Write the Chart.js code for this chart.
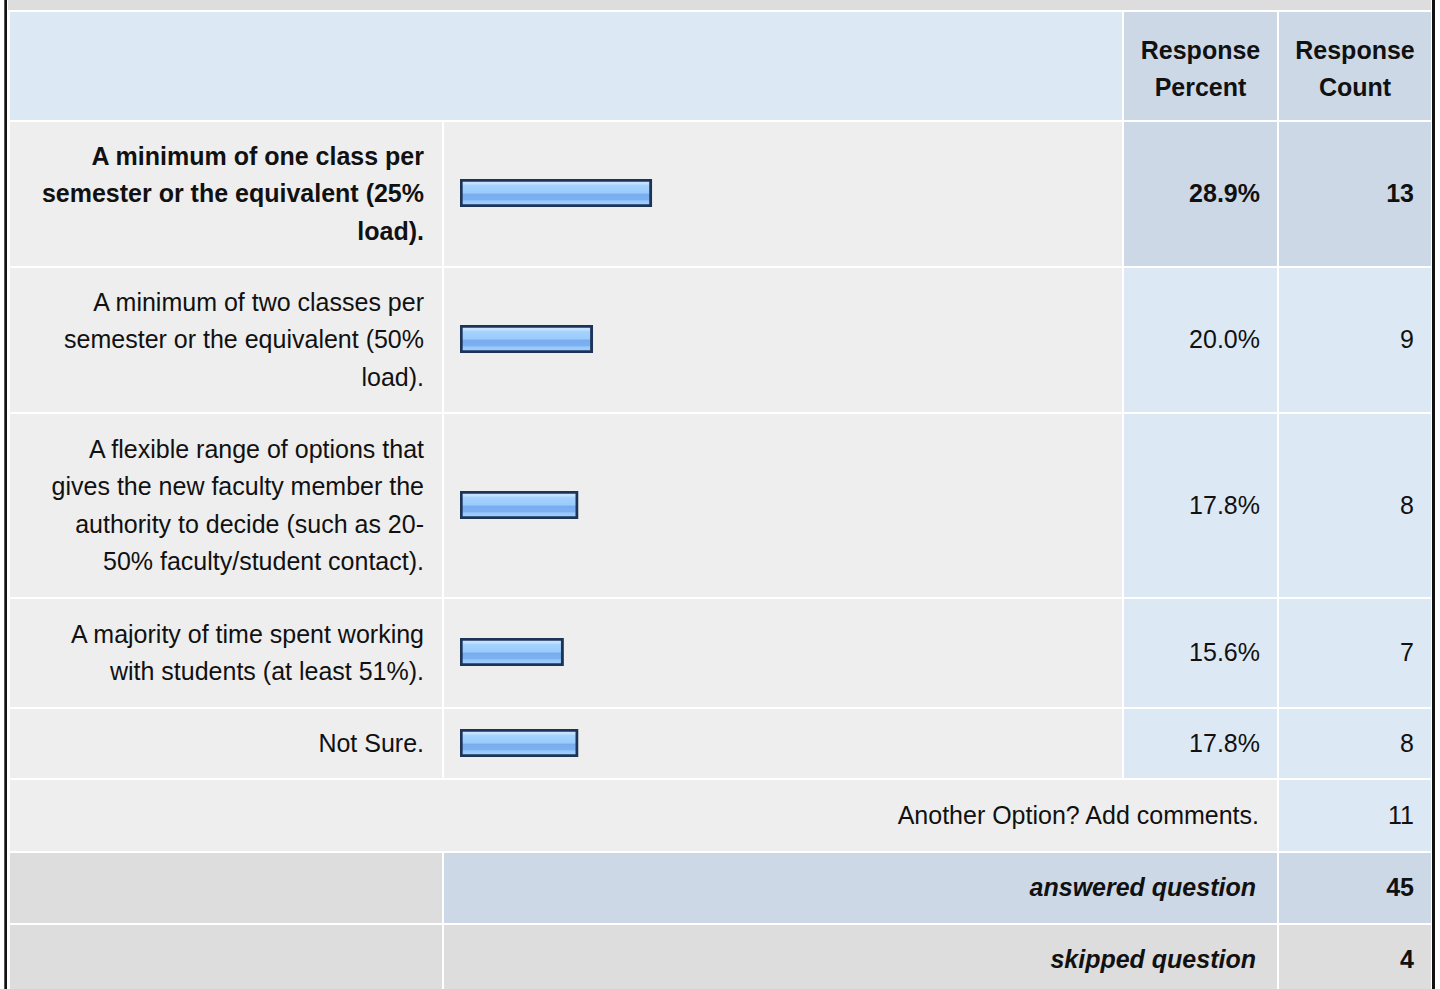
<!DOCTYPE html>
<html>
<head>
<meta charset="utf-8">
<script src="https://cdn.jsdelivr.net/npm/chart.js@4"></script>
<style>
  html, body { margin: 0; padding: 0; background: #fff; }
  body { width: 1440px; height: 989px; position: relative; overflow: hidden;
         font-family: "Liberation Sans", Arial, sans-serif; font-size: 25px; color: #111; }
  .cell { position: absolute; box-sizing: border-box; display: flex; align-items: center;
          justify-content: flex-end; text-align: right; line-height: 37.5px; white-space: pre-line; }
  .frame { position: absolute; top: 0; height: 989px; width: 3px; background: #111; }
  .bold { font-weight: bold; }
  .it { font-style: italic; font-weight: bold; }
  .barwrap { position: absolute; width: 664px; height: 28px; }
</style>
</head>
<body>
<div class="frame" style="left:4px; border-left:1px solid #555; width:2px;"></div>
<div class="frame" style="left:1432px;"></div>
<div id="table"></div>

<script>
// Survey results - answer choices, percent and count per choice
const answerChoices = [
    "A minimum of one class per\nsemester or the equivalent (25%\nload).",
    "A minimum of two classes per\nsemester or the equivalent (50%\nload).",
    "A flexible range of options that\ngives the new faculty member the\nauthority to decide (such as 20-\n50% faculty/student contact).",
    "A majority of time spent working\nwith students (at least 51%).",
    "Not Sure."
];
const responsePercent = [28.9, 20.0, 17.8, 15.6, 17.8];
const responseCount = [13, 9, 8, 7, 8];
const otherLabel = "Another Option? Add comments.";
const otherCount = 11;
const answeredQuestion = 45;
const skippedQuestion = 4;

// Colours
const C_GRAY = '#dddddd', C_LIGHT = '#eeeeee', C_BLUE = '#dde8f5', C_BLUE2 = '#cdd8e6';

// Column edges: label / bar / percent / count
const COLS = [{x: 10, w: 432}, {x: 444, w: 678}, {x: 1124, w: 153}, {x: 1279, w: 152}];
// Row tops and heights for the answer rows
const ROW_Y = [122, 268, 414, 599, 709];
const ROW_H = [144, 144, 183, 108, 69];

const table = document.getElementById('table');

function cell(x, y, w, h, bg, text, cls, pad, extra) {
    const d = document.createElement('div');
    d.className = 'cell' + (cls ? ' ' + cls : '');
    d.style.cssText = `left:${x}px;top:${y}px;width:${w}px;height:${h}px;background:${bg};padding-right:${pad || 0}px;` + (extra || '');
    if (text !== undefined) d.textContent = text;
    table.appendChild(d);
    return d;
}

// Top band and header row
cell(8, 0, 1423, 10, C_GRAY);
cell(10, 12, 1112, 108, C_BLUE);
cell(COLS[2].x, 12, COLS[2].w, 108, C_BLUE2, "Response\nPercent", 'bold', 0, 'justify-content:center;text-align:center;padding-top:6px;');
cell(COLS[3].x, 12, COLS[3].w, 108, C_BLUE2, "Response\nCount", 'bold', 0, 'justify-content:center;text-align:center;padding-top:6px;');

// Highest response is bold with darker cells
const maxPct = Math.max(...responsePercent);

answerChoices.forEach((label, i) => {
    const y = ROW_Y[i], h = ROW_H[i];
    const top = responsePercent[i] === maxPct;
    const cls = top ? 'bold' : '';
    cell(COLS[0].x, y, COLS[0].w, h, C_LIGHT, label, cls, 18, 'padding-left:20px;');
    const barCell = cell(COLS[1].x, y, COLS[1].w, h, C_LIGHT);
    cell(COLS[2].x, y, COLS[2].w, h, top ? C_BLUE2 : C_BLUE, responsePercent[i].toFixed(1) + '%', cls, 17);
    cell(COLS[3].x, y, COLS[3].w, h, top ? C_BLUE2 : C_BLUE, String(responseCount[i]), cls, 17);

    // Bar for this row drawn with Chart.js
    const wrap = document.createElement('div');
    wrap.className = 'barwrap';
    wrap.style.left = (COLS[1].x + 16) + 'px';
    wrap.style.top = Math.round(y + h / 2 - 15) + 'px';
    const canvas = document.createElement('canvas');
    canvas.width = 664;
    canvas.height = 28;
    wrap.appendChild(canvas);
    table.appendChild(wrap);
    drawBar(canvas, responsePercent[i]);
});

// Other option, answered, skipped rows
cell(10, 780, 1267, 71, C_LIGHT, otherLabel, '', 18);
cell(COLS[3].x, 780, COLS[3].w, 71, C_BLUE, String(otherCount), '', 17);

cell(10, 853, 432, 70, C_GRAY);
cell(COLS[1].x, 853, 833, 70, C_BLUE2, "answered question", 'it', 21);
cell(COLS[3].x, 853, COLS[3].w, 70, C_BLUE2, String(answeredQuestion), 'bold', 17);

cell(10, 925, 432, 70, C_GRAY);
cell(COLS[1].x, 925, 833, 70, C_GRAY, "skipped question", 'it', 21);
cell(COLS[3].x, 925, COLS[3].w, 70, C_GRAY, String(skippedQuestion), 'bold', 17);

// Glossy blue fill like the survey bar images
function barGradient(context) {
    const chart = context.chart;
    const area = chart.chartArea;
    if (!area) return '#9ccdfd';
    const g = chart.ctx.createLinearGradient(0, area.top, 0, area.bottom);
    g.addColorStop(0.00, '#cfe7ff');
    g.addColorStop(0.18, '#c2e0ff');
    g.addColorStop(0.22, '#a6d3ff');
    g.addColorStop(0.50, '#9acbfc');
    g.addColorStop(0.54, '#78acef');
    g.addColorStop(0.74, '#7cb1f1');
    g.addColorStop(0.78, '#94c7fb');
    g.addColorStop(1.00, '#a9d5ff');
    return g;
}

function drawBar(canvas, value) {
    new Chart(canvas.getContext('2d'), {
        type: 'bar',
        data: {
            labels: [''],
            datasets: [{
                data: [value],
                backgroundColor: barGradient,
                borderColor: '#1d3459',
                borderWidth: 3,
                borderSkipped: false,
                barPercentage: 1,
                categoryPercentage: 1
            }]
        },
        options: {
            indexAxis: 'y',
            responsive: false,
            animation: false,
            layout: { padding: 0 },
            plugins: { legend: { display: false }, tooltip: { enabled: false } },
            scales: {
                x: { min: 0, max: 100, display: false },
                y: { display: false }
            }
        }
    });
}
</script>
</body>
</html>
